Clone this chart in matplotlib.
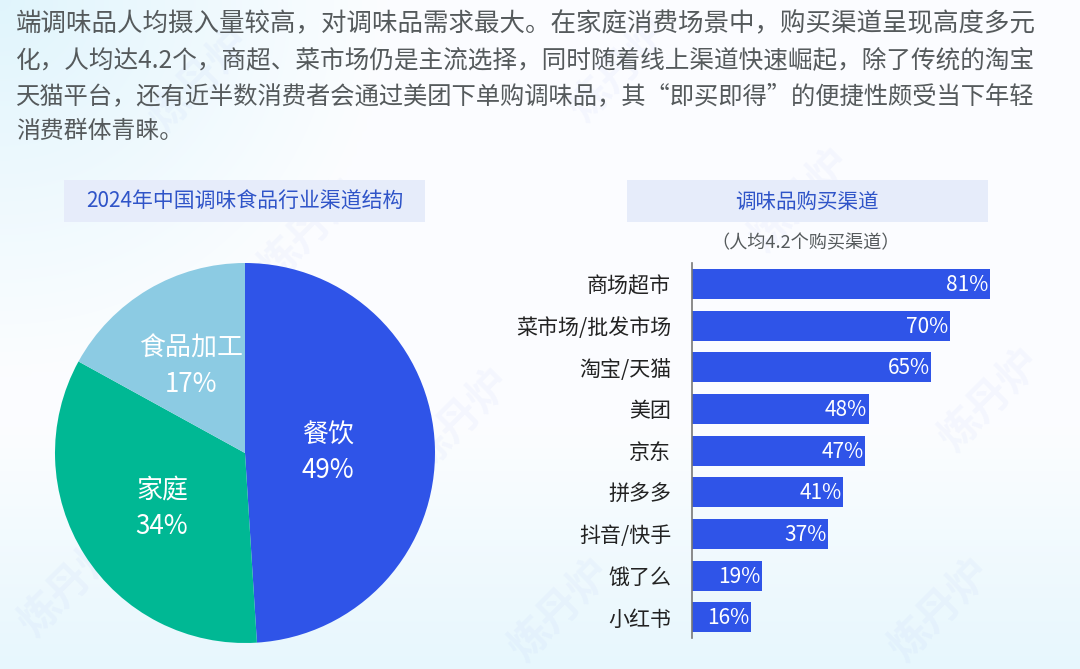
import numpy as np
import matplotlib
matplotlib.use("Agg")
import matplotlib.pyplot as plt
from matplotlib.patches import Rectangle

plt.rcParams['font.family'] = ['Noto Sans CJK SC', 'DejaVu Sans']

W, H = 1080, 669
intro_lines = [
    "端调味品人均摄入量较高，对调味品需求最大。在家庭消费场景中，购买渠道呈现高度多元",
    "化，人均达4.2个，商超、菜市场仍是主流选择，同时随着线上渠道快速崛起，除了传统的淘宝",
    "天猫平台，还有近半数消费者会通过美团下单购调味品，其“即买即得”的便捷性颇受当下年轻",
    "消费群体青睐。",
]
intro_sizes = [18.35, 17.73, 17.5, 17.2]
pie_title = "2024年中国调味食品行业渠道结构"
bar_title = "调味品购买渠道"
bar_subtitle = "（人均4.2个购买渠道）"
pie_labels = ["餐饮", "家庭", "食品加工"]
pie_values = [49, 34, 17]
pie_colors = ["#2F54E8", "#00B894", "#8CCBE3"]
bar_labels = ["商场超市", "菜市场/批发市场", "淘宝/天猫", "美团", "京东", "拼多多", "抖音/快手", "饿了么", "小红书"]
bar_values = [81, 70, 65, 48, 47, 41, 37, 19, 16]

fig = plt.figure(figsize=(W / 100, H / 100), dpi=100)

def axes_px(x0, y0, x1, y1, **kw):
    return fig.add_axes([x0 / W, 1 - y1 / H, (x1 - x0) / W, (y1 - y0) / H], **kw)

# Page: soft gradient background, faint watermark, text in pixel coordinates
page = axes_px(0, 0, W, H)
page.set_xlim(0, W)
page.set_ylim(H, 0)
page.axis("off")
yy, xx = np.mgrid[0:1:134j, 0:1:216j]
corner = np.clip(1 - np.hypot(xx / 0.35, yy / 0.55), 0, 1)
bottom = np.clip((yy - 0.65) / 0.35, 0, 1)
mix = np.clip(np.maximum(corner, 0.75 * bottom), 0, 1)[..., None]
white = np.array([0.985, 0.992, 1.0])
tint = np.array([0.88, 0.96, 0.99])
page.imshow(white * (1 - mix) + tint * mix, extent=(0, W, H, 0), aspect="auto", zorder=0,
            interpolation="bicubic")
for wx, wy in [(70, 585), (310, 230), (800, 200), (990, 400), (560, 610), (940, 610), (200, 80), (620, 70), (460, 420)]:
    page.text(wx, wy, "炼丹炉", fontsize=30, color="#2F54E8", alpha=0.035, rotation=45,
              ha="center", va="center", fontweight="bold", zorder=1)

for line, yc, fs in zip(intro_lines, [24, 60, 96, 132], intro_sizes):
    page.text(16, yc, line, fontsize=fs, color="#555A5C", ha="left", va="center", zorder=3)

page.add_patch(Rectangle((64, 180), 361, 42, fc="#E6ECFA", ec="none", zorder=2))
page.text(244.5, 201.5, pie_title, fontsize=15, color="#2F54C8", ha="center", va="center", zorder=3)
page.add_patch(Rectangle((627, 180), 361, 42, fc="#E6ECFA", ec="none", zorder=2))
page.text(807, 201.5, bar_title, fontsize=14.8, color="#2F54C8", ha="center", va="center", zorder=3)
page.text(806, 243, bar_subtitle, fontsize=13.1, color="#555A5C", ha="center", va="center", zorder=3)

# Pie
pie_ax = axes_px(55, 263, 435, 643)
pie_ax.patch.set_alpha(0)
wedges, _ = pie_ax.pie(pie_values, colors=pie_colors, startangle=90, counterclock=False, radius=1.0,
                       wedgeprops=dict(linewidth=0))
pie_ax.set_xlim(-1, 1)
pie_ax.set_ylim(-1, 1)
pie_ax.set_aspect("equal")
pie_text_pos = [(328, 453), (162, 508), (191, 366)]
for lab, val, (px, py) in zip(pie_labels, pie_values, pie_text_pos):
    fig.text(px / W, 1 - (py - 18) / H, lab, fontsize=18.7, color="white", ha="center", va="center")
    fig.text(px / W, 1 - (py + 18) / H, f"{val}%", fontsize=18.7, color="white", ha="center", va="center")

# Bars
bar_ax = axes_px(692, 263, 1000, 638)
bar_ax.patch.set_alpha(0)
y = np.arange(len(bar_values))
bar_ax.barh(y, bar_values, height=0.72, color="#2F54E8", linewidth=0)
bar_ax.set_xlim(0, 308 / 3.68)
bar_ax.set_ylim(len(bar_values) - 0.5, -0.5)
bar_ax.set_yticks(y, bar_labels, fontsize=15.1, color="#222222")
bar_ax.set_xticks([])
bar_ax.tick_params(axis="y", length=0, pad=15)
for s in ["top", "right", "bottom"]:
    bar_ax.spines[s].set_visible(False)
bar_ax.spines["left"].set_color("#777777")
bar_ax.spines["left"].set_linewidth(1.2)
for yi, v in zip(y, bar_values):
    bar_ax.text(v - 0.4, yi + 0.03, f"{v}%", color="white", fontsize=15, ha="right", va="center")

fig.savefig("out.png", dpi=100)
